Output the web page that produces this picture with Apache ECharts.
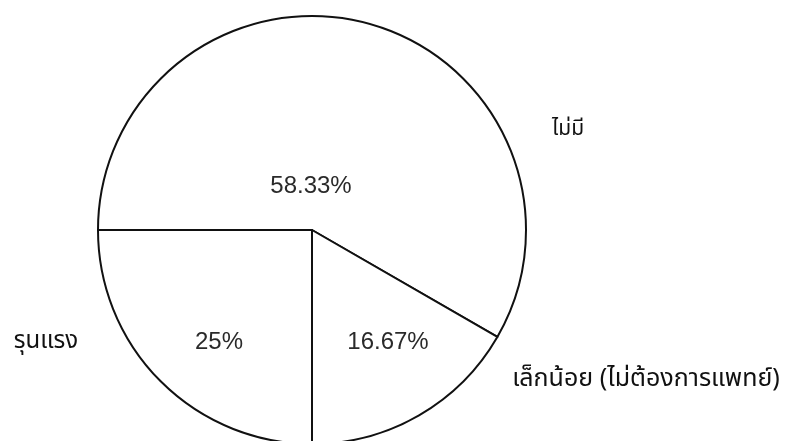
<!DOCTYPE html>
<html>
<head>
<meta charset="utf-8">
<script src="https://cdn.jsdelivr.net/npm/echarts@6/dist/echarts.min.js"></script>
<style>
  html, body { margin: 0; padding: 0; background: #ffffff; }
  #chart { width: 786px; height: 441px; }
</style>
</head>
<body>
<div id="chart"></div>
<script>
// Severity categories and their shares (%)
const categories = ['ไม่มี', 'เล็กน้อย (ไม่ต้องการแพทย์)', 'รุนแรง'];
const shares = [58.33, 16.67, 25];

// Label anchor points in px: percentages inside slices, names around the pie
const shareLabelPos = [[311, 186], [388, 342], [219, 342]];
const nameLabelPos = [[568, 131], [646, 381], [46, 343]];
const nameFontSizes = [21, 25, 24];

const pieData = categories.map((name, i) => ({ name: name, value: shares[i] }));

const chart = echarts.init(document.getElementById('chart'), null, { renderer: 'canvas' });

const common = {
  type: 'pie',
  center: [312, 230],
  radius: 214,
  startAngle: 180,
  clockwise: true,
  avoidLabelOverlap: false,
  animation: false,
  emphasis: { disabled: true },
  labelLine: { show: false }
};

chart.setOption({
  backgroundColor: '#ffffff',
  series: [
    Object.assign({}, common, {
      name: 'slices',
      data: pieData,
      itemStyle: { color: '#ffffff', borderColor: '#111111', borderWidth: 2 },
      label: {
        show: true,
        position: 'inside',
        formatter: p => shares[p.dataIndex] + '%',
        fontFamily: 'Liberation Sans, Arial, sans-serif',
        fontSize: 24,
        color: '#2a2a2a'
      },
      labelLayout: p => ({
        x: shareLabelPos[p.dataIndex][0],
        y: shareLabelPos[p.dataIndex][1],
        align: 'center',
        verticalAlign: 'middle'
      })
    }),
    Object.assign({}, common, {
      name: 'names',
      silent: true,
      z: 3,
      itemStyle: { color: 'rgba(0,0,0,0)', borderWidth: 0 },
      data: pieData.map((d, i) => ({
        name: d.name,
        value: d.value,
        label: { fontSize: nameFontSizes[i] }
      })),
      label: {
        show: true,
        position: 'outside',
        formatter: p => p.name,
        fontFamily: 'Noto Sans Thai, Tahoma, Noto Sans, sans-serif',
        color: '#111111'
      },
      labelLayout: p => ({
        x: nameLabelPos[p.dataIndex][0],
        y: nameLabelPos[p.dataIndex][1],
        align: 'center',
        verticalAlign: 'middle'
      })
    })
  ]
});
</script>
</body>
</html>
